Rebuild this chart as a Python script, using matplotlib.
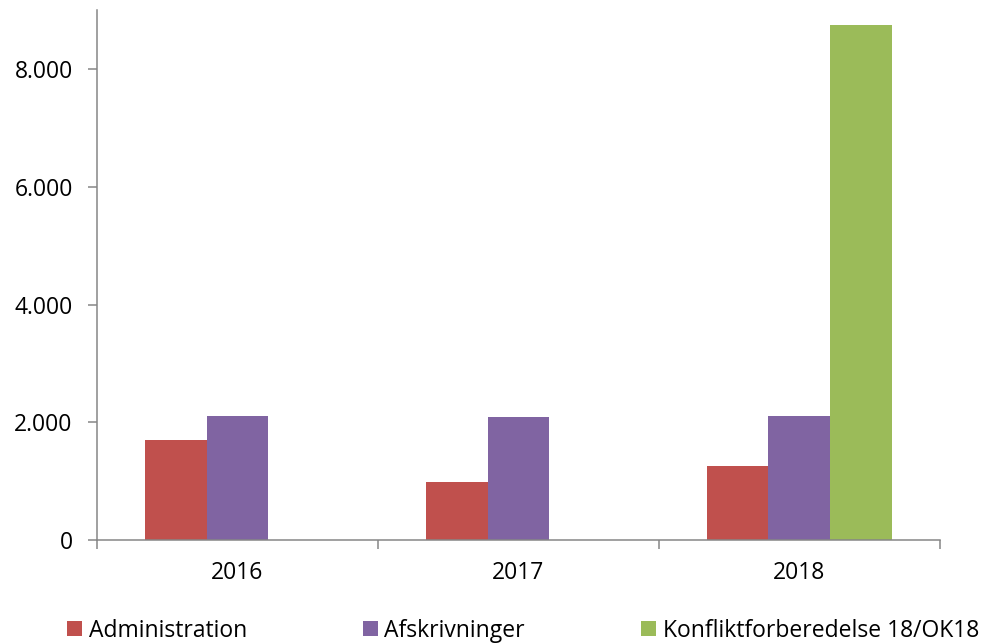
import matplotlib
matplotlib.use("Agg")
from matplotlib import pyplot as plt
from matplotlib.ticker import FuncFormatter
import numpy as np

plt.rcParams['font.family'] = ['Open Sans', 'DejaVu Sans']

years = ['2016', '2017', '2018']
administration = [1700, 985, 1255]
afskrivninger = [2105, 2090, 2105]
konflikt = [0, 0, 8740]
series_names = ['Administration', 'Afskrivninger', 'Konfliktforberedelse 18/OK18']
colors = ['#C0504D', '#8064A2', '#9BBB59']

fig = plt.figure(figsize=(9.84, 6.43), dpi=100)
ax = fig.add_axes([0.0986, 0.160, 0.8565, 0.8244])

x = np.arange(len(years))
w = 0.22
for i, (vals, name, c) in enumerate(zip([administration, afskrivninger, konflikt], series_names, colors)):
    ax.bar(x + (i - 1) * w, vals, w, color=c, label=name)

ax.set_xlim(-0.5, 2.5)
ax.set_ylim(0, 9000)
ax.set_yticks([0, 2000, 4000, 6000, 8000])
ax.yaxis.set_major_formatter(FuncFormatter(lambda v, p: f'{int(v):,}'.replace(',', '.')))
ax.set_xticks(x)
ax.set_xticklabels(years)
ax.set_xticks([-0.5, 0.5, 1.5, 2.5], minor=True)

for s in ['top', 'right']:
    ax.spines[s].set_visible(False)
for s in ['left', 'bottom']:
    ax.spines[s].set_color('#868686')
    ax.spines[s].set_linewidth(1.1)
ax.tick_params(axis='x', which='major', length=0, labelsize=16.5, pad=15)
ax.tick_params(axis='x', which='minor', length=6.5, color='#868686', width=1.1)
ax.tick_params(axis='y', length=6.5, color='#868686', width=1.1, labelsize=16.5, pad=11)

fig.legend(loc='center left', bbox_to_anchor=(0.047, 0.019), ncol=3, frameon=False,
           fontsize=16.5, handlelength=0.65, handleheight=0.65, handletextpad=0.3,
           columnspacing=5.05, borderpad=0.4)

fig.savefig('out.png', dpi=100)
